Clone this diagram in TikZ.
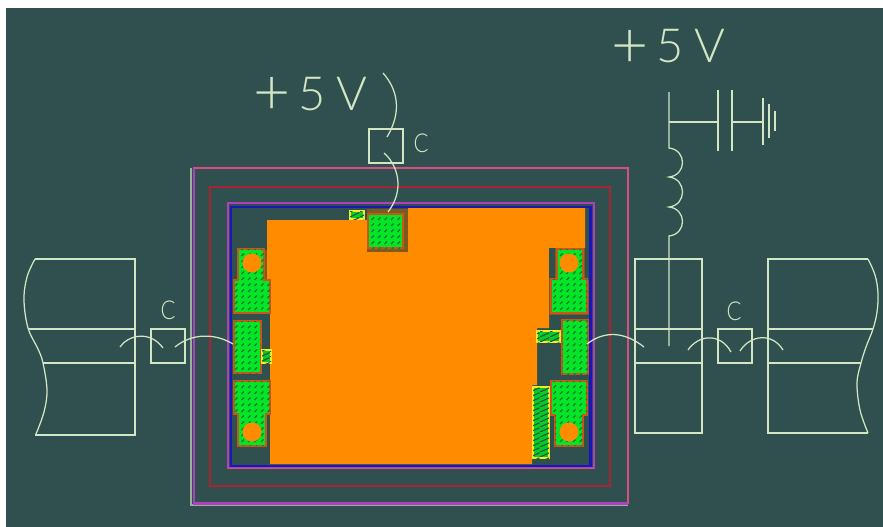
\documentclass[tikz,border=0pt]{standalone}
\usepackage{fontspec}
\newfontfamily\thinfont[UprightFont=* Light]{Lato}
\usetikzlibrary{patterns}
\definecolor{cadbg}{HTML}{304F4F}
\definecolor{cadline}{HTML}{D2E6C4}
\definecolor{cadpink}{HTML}{D8507F}
\definecolor{cadred}{HTML}{A82434}
\definecolor{cadpurple}{HTML}{B040C0}
\definecolor{cadblue}{HTML}{1818B8}
\definecolor{cadorange}{HTML}{FF8C00}
\definecolor{cadgreen}{HTML}{05E528}
\definecolor{cadtick}{HTML}{0A7E2E}
\definecolor{cadbrown}{HTML}{7E5A1C}
\definecolor{cadedge}{HTML}{C8581A}
\definecolor{cadyellow}{HTML}{F0F020}
\pgfdeclarepatternformonly{padticks}{\pgfqpoint{-1pt}{-1pt}}{\pgfqpoint{8pt}{7pt}}{\pgfqpoint{6.5pt}{6pt}}{%
  \pgfsetlinewidth{1.1pt}%
  \pgfpathmoveto{\pgfqpoint{1pt}{1pt}}%
  \pgfpathlineto{\pgfqpoint{3.5pt}{3.5pt}}%
  \pgfusepath{stroke}}
\pgfdeclarepatternformonly{taghatch}{\pgfqpoint{0pt}{0pt}}{\pgfqpoint{10pt}{5pt}}{\pgfqpoint{10pt}{5pt}}{%
  \pgfsetlinewidth{1.3pt}%
  \pgfpathmoveto{\pgfqpoint{0pt}{0pt}}%
  \pgfpathlineto{\pgfqpoint{10pt}{5pt}}%
  \pgfusepath{stroke}}
\tikzset{
  wire/.style={draw=cadline,line width=1.25pt},
  padbox/.style={draw=cadedge,line width=1.4pt,fill=cadgreen,postaction={pattern=padticks,pattern color=cadtick}},
  padback/.style={fill=cadbrown},
  hole/.style={fill=cadorange},
  tagbox/.style={draw=cadyellow,line width=1.3pt,fill=cadgreen!90!black,postaction={pattern=taghatch,pattern color=cadbg}},
  bigtext/.style={text=cadline,font=\thinfont\fontsize{47}{47}\selectfont,inner sep=0pt,anchor=base},
  captext/.style={text=cadline,font=\thinfont\fontsize{26}{26}\selectfont,inner sep=0pt,anchor=center,xscale=.85}
}
\newcommand{\plusfive}{\raisebox{-5pt}{\fontsize{64}{64}\selectfont +}\hspace{8pt}5\hspace{11pt}V}
\begin{document}
\begin{tikzpicture}[x=1pt,y=-1pt]
\useasboundingbox (0,0) rectangle (883,527);
\fill[white] (0,0) rectangle (883,527);
\fill[cadbg] (6,8) rectangle (883,527);
% nested outlines
\draw[cadline!65!cadbg,line width=1.2pt] (191,168) -- (191,505) -- (628,505);
\draw[cadpink,line width=2.4pt] (193,168) -- (628,168) -- (628,504);
\draw[cadpurple,line width=2.2pt] (194,168) -- (194,503.5) -- (628,503.5);
\draw[cadred,line width=2.6pt] (210,187) rectangle (610,486);
\draw[cadblue,line width=2.8pt] (231,207) rectangle (590.5,466);
\draw[cadpurple,line width=1.8pt] (228,203) rectangle (594,468);
\draw[cadpink,line width=1pt] (228,468.5) -- (594,468.5);
% large orange area
\fill[cadorange] (267,220) -- (367,220) -- (367,252) -- (408,252) -- (408,208) -- (585,208) -- (585,248) -- (549,248) -- (549,328) -- (537,328) -- (537,385) -- (532,385) -- (532,464) -- (270,464) -- (270,282) -- (267,282) -- cycle;
% top pad
\fill[padback] (367,209) rectangle (408,252);
\path[padbox] (368,214) rectangle (403,248);
\path[tagbox] (350,211) rectangle (364,219);
% left pads
\fill[padback] (264,250) rectangle (267,282);
\path[padbox] (238,249) -- (264,249) -- (264,280) -- (270,280) -- (270,313) -- (234,313) -- (234,280) -- (238,280) -- cycle;
\fill[hole] (252,263) circle (9.5pt);
\path[padbox] (234,321) rectangle (261,373);
\path[tagbox] (262,350) rectangle (271,363);
\path[padbox] (234,381) -- (270,381) -- (270,414) -- (266,414) -- (266,446) -- (238,446) -- (238,414) -- (234,414) -- cycle;
\fill[hole] (252,432) circle (9.5pt);
% right pads
\fill[padback] (549,248) rectangle (585,280);
\fill[padback] (549,280) rectangle (589,315);
\fill[cadbg] (549,248) rectangle (555,278);
\path[padbox] (557,249) -- (583,249) -- (583,279) -- (587,279) -- (587,313) -- (551,313) -- (551,279) -- (557,279) -- cycle;
\fill[hole] (569,263) circle (9.5pt);
\path[padbox] (562,320) rectangle (588,374);
\path[padbox] (551,381) -- (587,381) -- (587,415) -- (583,415) -- (583,446) -- (555,446) -- (555,415) -- (551,415) -- cycle;
\fill[hole] (569,432) circle (9.5pt);
\path[tagbox] (537,331) rectangle (560,342);
\path[tagbox] (533,387) rectangle (549,458);
% connector outlines
\draw[wire] (35,259) -- (135,259) -- (135,435) -- (35,435);
\draw[wire] plot[smooth,tension=.6] coordinates {(35,259) (27,277) (24,300) (28,328) (38,349) (43,363) (47,390) (44,412) (36,434)};
\draw[wire] (28,329) -- (135,329) (43,363) -- (135,363);
\draw[wire] (635,259) rectangle (702,433);
\draw[wire] (635,329) -- (702,329) (635,363) -- (702,363);
\draw[wire] (868,259) -- (768,259) -- (768,433) -- (868,433);
\draw[wire] plot[smooth,tension=.6] coordinates {(868,259) (875,275) (878,293) (877,312) (873,329) (866,347) (861,363) (857,383) (860,410) (868,433)};
\draw[wire] (768,329) -- (873,329) (768,363) -- (861,363);
% capacitor boxes
\draw[wire] (151,329) rectangle (185,363);
\draw[wire] (718,329) rectangle (752,363);
\draw[wire] (369,129) rectangle (403,163);
\node[captext] (capleft) at (168,310) {C};
\node[captext] (capright) at (734,311) {C};
\node[captext] (captop) at (421,143) {C};
% bond wires
\draw[wire] (120,347) .. controls (128,335) and (150,330) .. (163,348);
\draw[wire] (175,347) .. controls (192,333) and (215,333) .. (233,344);
\draw[wire] (587,344) .. controls (605,330) and (625,332) .. (644,347);
\draw[wire] (688,350) .. controls (698,335) and (720,332) .. (731,352);
\draw[wire] (740,351) .. controls (750,335) and (772,332) .. (783,350);
\draw[wire] (383,73) .. controls (398,90) and (402,112) .. (387,137);
\draw[wire] (384,153) .. controls (398,165) and (405,190) .. (388,212);
% supply symbol
\draw[wire] (669,92) -- (669,148) .. controls (687,150) and (687,175) .. (669,177) .. controls (687,179) and (687,205) .. (669,207) .. controls (687,209) and (687,234) .. (669,236) -- (669,346);
\draw[wire] (669,122) -- (718,122) (718,90) -- (718,151);
\draw[wire] (732,90) -- (732,151) (732,122) -- (763,122);
\draw[wire] (763,98) -- (763,145);
\draw[wire] (769,104) -- (769,138);
\draw[wire] (775,111) -- (775,131);
% labels
\node[bigtext] (vright) at (668.5,63) {\plusfive};
\node[bigtext] (vleft) at (310.5,110) {\plusfive};
\end{tikzpicture}
\end{document}
